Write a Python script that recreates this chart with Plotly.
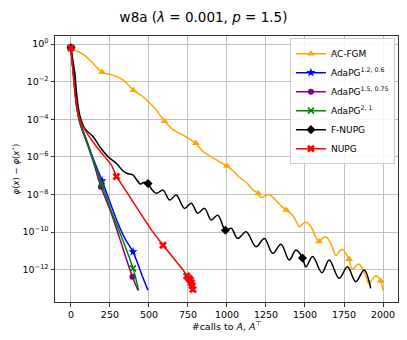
import plotly.graph_objects as go

# Datos (x = llamadas a A, A^T ; y en log10)
acfgm_x = [0, 40, 79, 143, 200, 270, 334, 400, 462, 537, 600, 654, 718, 800, 845, 930, 1000,
           1040, 1080, 1123, 1165, 1200, 1215, 1240, 1270, 1300, 1340, 1380, 1420, 1445, 1463,
           1480, 1506, 1530, 1550, 1570, 1590, 1610, 1634, 1655, 1675, 1698, 1718, 1740, 1762,
           1783, 1800, 1815, 1845, 1868, 1890, 1910, 1925, 1953, 1970, 1985, 2000]
acfgm_log = [-0.2, -0.38, -0.55, -1.03, -1.5, -1.65, -1.9, -2.45, -2.8, -3.42, -4.1, -4.55, -4.84,
             -5.28, -5.7, -6.15, -6.49, -6.75, -7.1, -7.35, -7.75, -7.95, -8.15, -8.1, -8.0, -8.2,
             -8.55, -8.83, -9.1, -9.45, -9.72, -9.6, -9.48, -9.62, -9.9, -10.3, -10.5, -10.35,
             -10.25, -10.45, -10.8, -11.25, -11.05, -10.92, -11.15, -11.45, -11.95, -11.9, -11.7,
             -11.95, -12.35, -12.75, -12.6, -12.32, -12.4, -12.6, -13.1]
acfgm_mx = [0, 200, 400, 600, 800, 1000, 1200, 1380, 1590, 1783, 1985]
acfgm_mlog = [-0.2, -1.5, -2.45, -4.1, -5.28, -6.49, -7.95, -8.83, -10.5, -11.45, -12.6]

ada1_x = [0, 15, 26, 36, 57, 100, 143, 200, 250, 302, 350, 398, 451, 494]
ada1_log = [-0.2, -1.5, -2.45, -3.2, -4.1, -5.1, -6.1, -7.27, -8.4, -9.54, -10.4, -11.05, -12.2, -13.1]
ada1_mx = [0, 200, 398]
ada1_mlog = [-0.2, -7.27, -11.05]

ada2_x = [0, 15, 26, 36, 57, 100, 143, 192, 250, 302, 350, 394, 430]
ada2_log = [-0.2, -1.5, -2.5, -3.3, -4.2, -5.2, -6.25, -7.59, -8.8, -10.07, -11.3, -12.38, -13.1]
ada2_mx = [0, 192, 394]
ada2_mlog = [-0.2, -7.59, -12.38]

ada3_x = [0, 15, 26, 36, 57, 100, 143, 196, 260, 324, 398, 434]
ada3_log = [-0.2, -1.5, -2.5, -3.3, -4.15, -5.15, -6.2, -7.41, -8.9, -10.25, -11.93, -13.1]
ada3_mx = [0, 196, 398]
ada3_mlog = [-0.2, -7.41, -11.93]

fnupg_x = [0, 15, 26, 36, 57, 89, 143, 185, 239, 292, 334, 366, 395, 420, 445, 470, 494,
           520, 548, 590, 633, 675, 728, 771, 813, 856, 899, 941, 990, 1027, 1069, 1123, 1186,
           1240, 1293, 1346, 1399, 1442, 1484, 1506, 1549, 1608, 1655, 1719, 1772, 1825, 1879, 1921]
fnupg_log = [-0.2, -1.0, -1.6, -2.6, -3.8, -4.5, -4.93, -5.46, -6.0, -6.35, -6.75, -6.9, -6.95,
             -7.2, -7.45, -7.35, -7.42, -7.75, -7.94, -7.77, -8.3, -8.03, -8.74, -8.47, -9.0,
             -8.74, -9.36, -9.1, -9.9, -9.8, -10.34, -9.98, -10.78, -10.34, -11.13, -10.65,
             -11.49, -10.96, -11.38, -11.85, -11.3, -12.16, -11.49, -12.46, -11.85, -12.64, -12.02, -13.0]
fnupg_mx = [0, 494, 990, 1484]
fnupg_mlog = [-0.2, -7.42, -9.9, -11.38]

nupg_x = [0, 15, 26, 47, 70, 111, 164, 217, 260, 292, 516, 590, 718, 743, 765, 775, 782]
nupg_log = [-0.2, -1.6, -2.62, -3.69, -4.3, -4.84, -5.46, -6.0, -6.44, -7.04, -9.9, -10.7, -12.0,
            -12.34, -12.55, -12.8, -13.05]
nupg_mx = [0, 292, 590, 743, 755, 765, 772, 777, 782]
nupg_mlog = [-0.2, -7.04, -10.7, -12.34, -12.45, -12.55, -12.7, -12.85, -13.05]

y_tick_vals = [1, 1e-2, 1e-4, 1e-6, 1e-8, 1e-10, 1e-12]
y_tick_text = ['10<sup>0</sup>', '10<sup>−2</sup>', '10<sup>−4</sup>', '10<sup>−6</sup>',
               '10<sup>−8</sup>', '10<sup>−10</sup>', '10<sup>−12</sup>']


def pot(vals):
    return [10 ** v for v in vals]


series = [
    ('AC-FGM', 'orange', 'triangle-up', 7, acfgm_x, acfgm_log, acfgm_mx, acfgm_mlog, 'spline'),
    ('AdaPG<sup>1.2, 0.6</sup>', 'blue', 'star', 7, ada1_x, ada1_log, ada1_mx, ada1_mlog, 'spline'),
    ('AdaPG<sup>1.5, 0.75</sup>', 'purple', 'circle', 6, ada2_x, ada2_log, ada2_mx, ada2_mlog, 'spline'),
    ('AdaPG<sup>2, 1</sup>', 'green', 'x-thin', 6, ada3_x, ada3_log, ada3_mx, ada3_mlog, 'spline'),
    ('F-NUPG', 'black', 'diamond', 7, fnupg_x, fnupg_log, fnupg_mx, fnupg_mlog, 'spline'),
    ('NUPG', 'red', 'x', 7, nupg_x, nupg_log, nupg_mx, nupg_mlog, 'linear'),
]

fig = go.Figure()

for nombre, color, simbolo, tam, xs, ls, mxs, mls, forma in series:
    marcador = dict(symbol=simbolo, size=tam, color=color,
                    line=dict(width=1.5 if simbolo == 'x-thin' else 0, color=color))
    fig.add_trace(go.Scatter(x=xs, y=pot(ls), mode='lines', line=dict(color=color, width=1.5, shape=forma),
                             showlegend=False, hoverinfo='skip'))
    fig.add_trace(go.Scatter(x=mxs, y=pot(mls), mode='markers', marker=marcador, showlegend=False))
    # entrada de leyenda
    fig.add_trace(go.Scatter(x=[None], y=[None], mode='lines+markers', name=nombre,
                             line=dict(color=color, width=1.5), marker=marcador))

# la pagina tiene 8px de margen en el body, se compensa aqui
fig.update_layout(
    width=391,
    height=324,
    margin=dict(l=47, r=1, t=28, b=30),
    plot_bgcolor='white',
    paper_bgcolor='white',
    font=dict(family='DejaVu Sans', size=9.5, color='black'),
    title=dict(text='w8a (<i>λ</i> = 0.001, <i>p</i> = 1.5)', x=0.5, xref='container', xanchor='center',
               y=0.972, yref='container', yanchor='middle', font=dict(size=13.5)),
    legend=dict(x=0.991, y=0.992, xanchor='right', yanchor='top', bgcolor='rgba(255,255,255,0.85)',
                bordercolor='#cccccc', borderwidth=1, font=dict(size=9), tracegroupgap=0),
)

fig.update_xaxes(
    range=[-102, 2096],
    tick0=0, dtick=250,
    automargin=False,
    showline=True, mirror=True, linecolor='#333333', linewidth=1,
    ticks='outside', ticklen=3.5, tickcolor='#333333',
    showgrid=True, gridcolor='#c0c0c0', gridwidth=0.8,
    zeroline=False,
    title=dict(text='#calls to <i>A</i>, <i>A</i><sup>⊤</sup>', standoff=4, font=dict(size=9.5)),
)

fig.update_yaxes(
    type='log',
    range=[-13.72, 0.43],
    tickvals=y_tick_vals, ticktext=y_tick_text,
    automargin=False,
    showline=True, mirror=True, linecolor='#333333', linewidth=1,
    ticks='outside', ticklen=3.5, tickcolor='#333333',
    showgrid=True, gridcolor='#c0c0c0', gridwidth=0.8,
    zeroline=False,
    title=dict(text='<i>φ</i>(<i>x</i>) − <i>φ</i>(<i>x</i><sup>⋆</sup>)', standoff=1, font=dict(size=8.5)),
)

fig.write_html('out.html')
